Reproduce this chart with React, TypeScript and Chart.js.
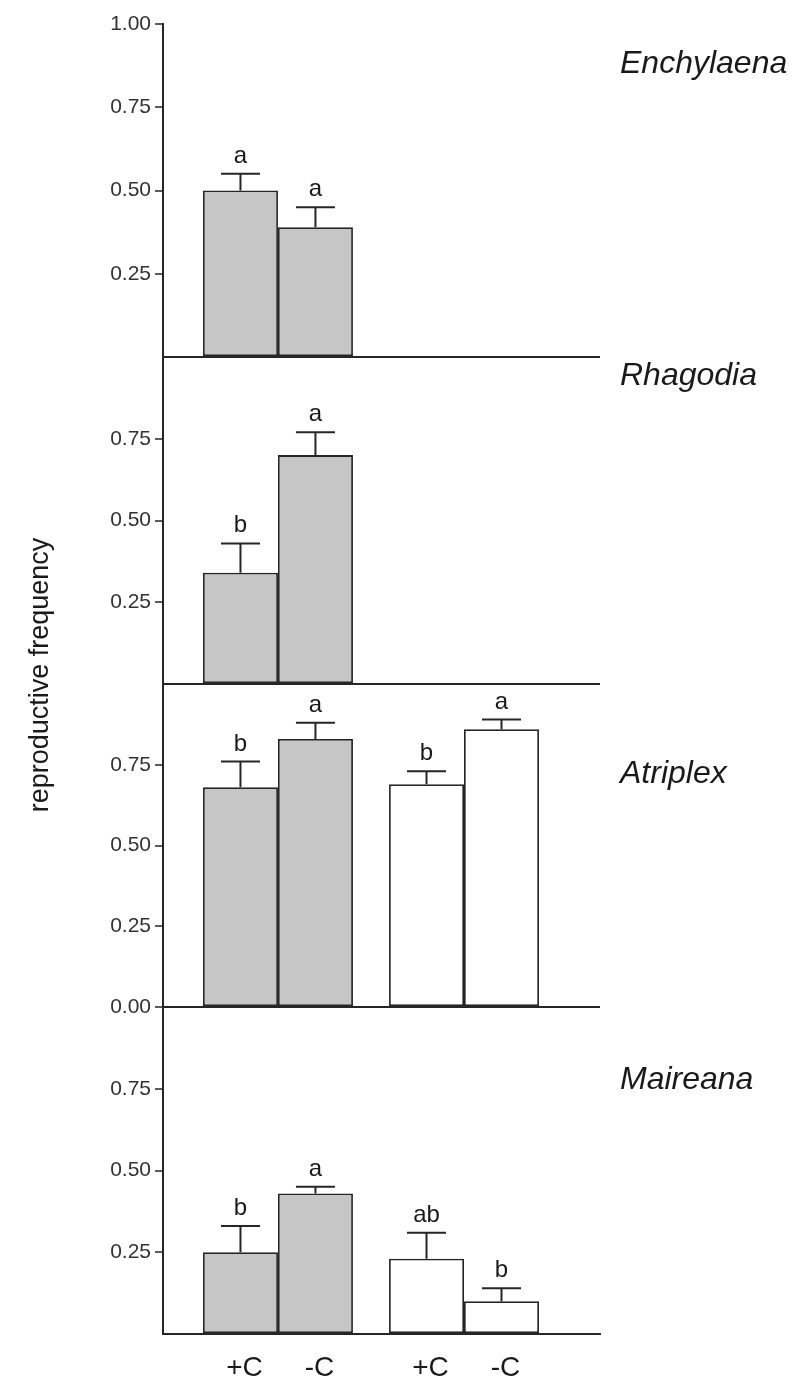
import React, { useEffect, useRef } from "react";
import { Chart, registerables } from "chart.js";

Chart.register(...registerables);

// ---------- data ----------
const species = ["Enchylaena", "Rhagodia", "Atriplex", "Maireana"];
const treatments = ["+C", "-C"];
const groupIndex = [0, 1]; // 0 = grey bars (left pair), 1 = white bars (right pair)

// values ordered: grey +C, grey -C, white +C, white -C
const enchylaenaMeans = [0.5, 0.39];
const enchylaenaSE = [0.05, 0.06];
const enchylaenaLetters = ["a", "a"];

const rhagodiaMeans = [0.34, 0.7];
const rhagodiaSE = [0.09, 0.07];
const rhagodiaLetters = ["b", "a"];

const atriplexMeans = [0.68, 0.83, 0.69, 0.86];
const atriplexSE = [0.08, 0.05, 0.04, 0.03];
const atriplexLetters = ["b", "a", "b", "a"];

const maireanaMeans = [0.25, 0.43, 0.23, 0.1];
const maireanaSE = [0.08, 0.02, 0.08, 0.04];
const maireanaLetters = ["b", "a", "ab", "b"];

const panelTicks = [
  [0, 0.25, 0.5, 0.75, 1.0],
  [0, 0.25, 0.5, 0.75],
  [0, 0.25, 0.5, 0.75],
  [0, 0.25, 0.5, 0.75],
];
const zeroLabelShown = [false, false, true, false];
const yTitle = "reproductive frequency";

// ---------- style ----------
const FONT = "'Liberation Sans', Arial, Helvetica, sans-serif";
const GREY = "#c6c6c6";
const WHITE = "#ffffff";
const INK = "#262626";
const panelWeights = [333, 327, 323, 327];
const speciesLabelOffset = [40, 19, 90, 73];

const meansBySpecies = [enchylaenaMeans, rhagodiaMeans, atriplexMeans, maireanaMeans];
const seBySpecies = [enchylaenaSE, rhagodiaSE, atriplexSE, maireanaSE];
const lettersBySpecies = [enchylaenaLetters, rhagodiaLetters, atriplexLetters, maireanaLetters];

function buildDatasets() {
  const out: any[] = [];
  species.forEach((sp, p) => {
    treatments.forEach((tr, t) => {
      const data: any[] = [];
      const errors: number[] = [];
      const letters: string[] = [];
      groupIndex.forEach((g) => {
        const k = g * 2 + t;
        if (k < meansBySpecies[p].length) {
          data.push({ x: g, y: meansBySpecies[p][k] });
          errors.push(seBySpecies[p][k]);
          letters.push(lettersBySpecies[p][k]);
        }
      });
      out.push({
        label: tr,
        species: sp,
        panel: p,
        data,
        errors,
        letters,
        yAxisID: "y" + p,
        stack: t === 0 ? "plus" : "minus",
        backgroundColor: data.map((d) => (d.x === 0 ? GREY : WHITE)),
        borderColor: INK,
        borderWidth: 1.8,
        borderSkipped: false,
        barPercentage: 1,
        categoryPercentage: 0.806,
      });
    });
  });
  return out;
}

const annotations = {
  id: "annotations",
  afterDatasetsDraw(chart: any) {
    const ctx = chart.ctx;
    ctx.save();
    chart.data.datasets.forEach((ds: any, di: number) => {
      const meta = chart.getDatasetMeta(di);
      const yScale = chart.scales[ds.yAxisID];
      meta.data.forEach((bar: any, i: number) => {
        const v = ds.data[i].y;
        const yTop = yScale.getPixelForValue(v + ds.errors[i]);
        ctx.strokeStyle = INK;
        ctx.lineWidth = 2;
        ctx.beginPath();
        ctx.moveTo(bar.x, bar.y);
        ctx.lineTo(bar.x, yTop);
        ctx.moveTo(bar.x - 19.5, yTop);
        ctx.lineTo(bar.x + 19.5, yTop);
        ctx.stroke();
        ctx.fillStyle = "#1a1a1a";
        ctx.font = `24px ${FONT}`;
        ctx.textAlign = "center";
        ctx.textBaseline = "alphabetic";
        ctx.fillText(ds.letters[i], bar.x, yTop - 11);
      });
    });
    ctx.restore();
  },
  afterDraw(chart: any) {
    const ctx = chart.ctx;
    const area = chart.chartArea;
    ctx.save();
    ctx.fillStyle = "#1a1a1a";
    // species names
    ctx.font = `italic 32px ${FONT}`;
    ctx.textAlign = "left";
    ctx.textBaseline = "middle";
    species.forEach((sp, p) => {
      const sc = chart.scales["y" + p];
      ctx.fillText(sp, area.right + 20, sc.top + speciesLabelOffset[p]);
    });
    // treatment labels under the bottom panel
    ctx.font = `28px ${FONT}`;
    ctx.textAlign = "center";
    ctx.textBaseline = "alphabetic";
    chart.data.datasets.forEach((ds: any, di: number) => {
      if (ds.panel !== species.length - 1) return;
      chart.getDatasetMeta(di).data.forEach((bar: any) => {
        ctx.fillText(ds.label, bar.x + 4, area.bottom + 42);
      });
    });
    // y title
    ctx.font = `27px ${FONT}`;
    ctx.translate(41, (area.top + area.bottom) / 2 - 4);
    ctx.rotate(-Math.PI / 2);
    ctx.textAlign = "center";
    ctx.textBaseline = "middle";
    ctx.fillText(yTitle, 0, 0);
    ctx.restore();
  },
};

export default function App() {
  const ref = useRef<HTMLCanvasElement | null>(null);
  useEffect(() => {
    if (!ref.current) return;
    const yScales: any = {};
    species.forEach((sp, p) => {
      yScales["y" + p] = {
        type: "linear",
        position: "left",
        stack: "panels",
        stackWeight: panelWeights[p],
        weight: species.length - p,
        stacked: false,
        min: 0,
        max: 1,
        afterFit: (s: any) => {
          s.width = 163;
        },
        afterBuildTicks: (s: any) => {
          s.ticks = panelTicks[p].map((v) => ({ value: v }));
        },
        border: { display: true, color: INK, width: 2 },
        grid: {
          drawOnChartArea: true,
          drawTicks: true,
          tickLength: 8,
          lineWidth: 2,
          color: (c: any) => (c.tick && c.tick.value === 0 ? INK : "rgba(0,0,0,0)"),
          tickColor: (c: any) =>
            c.tick && c.tick.value === 0 && !zeroLabelShown[p] ? "rgba(0,0,0,0)" : INK,
          tickWidth: 1.5,
        },
        ticks: {
          padding: 4,
          color: "#333",
          font: { family: FONT, size: 21 },
          callback: (v: any) => (v === 0 && !zeroLabelShown[p] ? "" : Number(v).toFixed(2)),
        },
      };
    });
    const chart = new Chart(ref.current, {
      type: "bar",
      data: { datasets: buildDatasets() },
      options: {
        responsive: false,
        animation: false,
        layout: { padding: { top: 24, right: 192, left: 0, bottom: 0 } },
        plugins: { legend: { display: false }, tooltip: { enabled: false } },
        scales: {
          x: {
            type: "linear",
            offset: false,
            bounds: "data",
            min: -0.618,
            max: 1.731,
            afterBuildTicks: (s: any) => {
              s.ticks = groupIndex.map((v) => ({ value: v }));
            },
            afterFit: (s: any) => {
              s.height = 47;
            },
            grid: { display: false, offset: false },
            border: { display: true, color: INK, width: 2 },
            ticks: { display: false },
          },
          ...yScales,
        },
      } as any,
      plugins: [annotations],
    });
    return () => chart.destroy();
  }, []);
  return (
    <div style={{ position: "absolute", left: 0, top: 0, width: 792, height: 1381, background: "#fff" }}>
      <canvas ref={ref} width={792} height={1381} style={{ display: "block" }} />
    </div>
  );
}
